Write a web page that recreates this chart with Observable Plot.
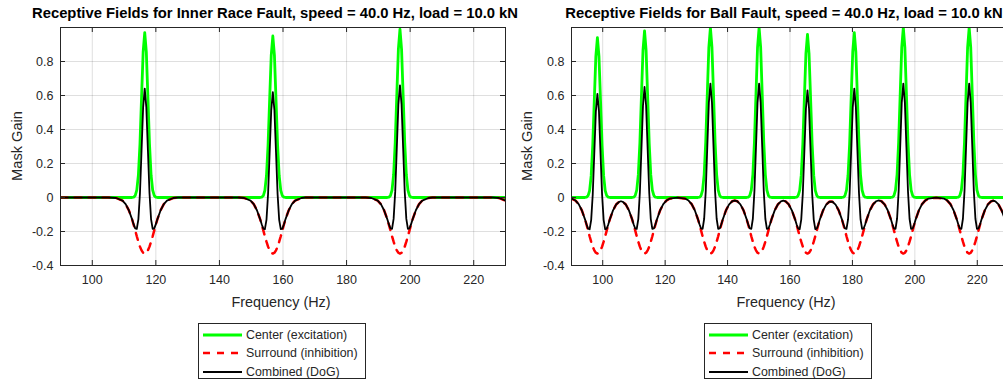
<!DOCTYPE html>
<html><head><meta charset="utf-8">
<script src="https://cdn.jsdelivr.net/npm/d3@7"></script>
<script src="https://cdn.jsdelivr.net/npm/@observablehq/plot@0.6"></script>
<style>
body{margin:0;background:#fff;}
#root{position:relative;width:1003px;height:379px;overflow:hidden;font-family:"Liberation Sans",Arial,Helvetica,sans-serif;color:#262626;background:#fff;}
.panel{position:absolute;top:0;}
.title{position:absolute;top:5px;line-height:16px;font-weight:bold;font-size:14.8px;white-space:nowrap;transform:translateX(-50%);color:#000;}
.xlabel{position:absolute;font-size:14.4px;line-height:16px;white-space:nowrap;transform:translate(-50%,-50%);}
.ylabel{position:absolute;font-size:14.6px;line-height:16px;white-space:nowrap;transform:translate(-50%,-50%) rotate(-90deg);}
.legend{position:absolute;border:1px solid #262626;background:#fff;font-size:12.4px;box-sizing:border-box;}
.legend .row{position:absolute;left:0;height:16px;line-height:16px;white-space:nowrap;}
.legend svg{position:absolute;left:4px;top:0;}
.legend span{position:absolute;left:47px;top:0;}
</style></head><body><div id="root"></div>
<script>
// ---------- axis ticks ----------
const xTicks = [100, 120, 140, 160, 180, 200, 220];
const xTickLabels = ["100", "120", "140", "160", "180", "200", "220"];
const yTicks = [-0.4, -0.2, 0, 0.2, 0.4, 0.6, 0.8];
const yTickLabels = ["-0.4", "-0.2", "0", "0.2", "0.4", "0.6", "0.8"];
const seriesNames = ["Center (excitation)", "Surround (inhibition)", "Combined (DoG)"];
const titles = [
  "Receptive Fields for Inner Race Fault, speed = 40.0 Hz, load = 10.0 kN",
  "Receptive Fields for Ball Fault, speed = 40.0 Hz, load = 10.0 kN"
];

// ---------- left panel (Inner Race Fault) ----------
const leftFreq = [
  90, 100, 105,
  107.5, 109.5, 110.5, 111.5, 112.5, 113, 113.5, 114, 114.5, 115, 115.5, 116, 116.5, 117, 117.5, 118, 118.5, 119, 119.5, 120, 120.5, 121.5, 122.5, 123.5, 125.5,
  127, 137, 146,
  147.8, 149.8, 150.8, 151.8, 152.8, 153.3, 153.8, 154.3, 154.8, 155.3, 155.8, 156.3, 156.8, 157.3, 157.8, 158.3, 158.8, 159.3, 159.8, 160.3, 160.8, 161.8, 162.8, 163.8, 165.8,
  167, 177, 186,
  187.8, 189.8, 190.8, 191.8, 192.8, 193.3, 193.8, 194.3, 194.8, 195.3, 195.8, 196.3, 196.8, 197.3, 197.8, 198.3, 198.8, 199.3, 199.8, 200.3, 200.8, 201.8, 202.8, 203.8, 205.8,
  207, 218, 226, 228, 230
];
const leftCenter = [
  0, 0, 0,
  0, 0, 0, 0, 0, 0.002, 0.011, 0.043, 0.131, 0.315, 0.589, 0.856, 0.970, 0.856, 0.589, 0.315, 0.131, 0.043, 0.011, 0.002, 0, 0, 0, 0, 0,
  0, 0, 0,
  0, 0, 0, 0, 0, 0.002, 0.010, 0.042, 0.128, 0.309, 0.577, 0.838, 0.950, 0.838, 0.577, 0.309, 0.128, 0.042, 0.010, 0.002, 0, 0, 0, 0, 0,
  0, 0, 0,
  0, 0, 0, 0, 0, 0.002, 0.011, 0.044, 0.134, 0.322, 0.601, 0.873, 0.990, 0.873, 0.601, 0.322, 0.134, 0.044, 0.011, 0.002, 0, 0, 0, 0, 0,
  0, 0, 0, 0, 0
];
const leftSurround = [
  0, 0, 0,
  -0.003, -0.018, -0.039, -0.075, -0.127, -0.159, -0.193, -0.228, -0.260, -0.289, -0.311, -0.325, -0.330, -0.325, -0.311, -0.289, -0.260, -0.228, -0.193, -0.159, -0.127, -0.075, -0.039, -0.018, -0.003,
  0, 0, 0,
  -0.003, -0.018, -0.039, -0.075, -0.127, -0.159, -0.193, -0.228, -0.260, -0.289, -0.311, -0.325, -0.330, -0.325, -0.311, -0.289, -0.260, -0.228, -0.193, -0.159, -0.127, -0.075, -0.039, -0.018, -0.003,
  0, 0, 0,
  -0.003, -0.018, -0.039, -0.075, -0.127, -0.159, -0.193, -0.228, -0.260, -0.289, -0.311, -0.325, -0.330, -0.325, -0.311, -0.289, -0.260, -0.228, -0.193, -0.159, -0.127, -0.075, -0.039, -0.018, -0.003,
  0, 0, 0, -0.003, -0.018
];
const leftCombined = [
  0, 0, 0,
  -0.003, -0.018, -0.039, -0.075, -0.127, -0.157, -0.182, -0.185, -0.129, 0.026, 0.278, 0.531, 0.640, 0.531, 0.278, 0.026, -0.129, -0.185, -0.182, -0.157, -0.127, -0.075, -0.039, -0.018, -0.003,
  0, 0, 0,
  -0.003, -0.018, -0.039, -0.075, -0.127, -0.157, -0.183, -0.186, -0.132, 0.020, 0.266, 0.513, 0.620, 0.513, 0.266, 0.020, -0.132, -0.186, -0.183, -0.157, -0.127, -0.075, -0.039, -0.018, -0.003,
  0, 0, 0,
  -0.003, -0.018, -0.039, -0.075, -0.127, -0.157, -0.182, -0.184, -0.126, 0.033, 0.290, 0.548, 0.660, 0.548, 0.290, 0.033, -0.126, -0.184, -0.182, -0.157, -0.127, -0.075, -0.039, -0.018, -0.003,
  0, 0, 0, -0.003, -0.018
];

// ---------- right panel (Ball Fault) ----------
const rightFreq = [
  90, 91.3, 92.3, 93.3,
  94.3, 94.8, 95.3, 95.8, 96.3, 96.8, 97.3, 97.8, 98.3, 98.8, 99.3, 99.8, 100.3, 100.8, 101.3, 101.8, 102.3,
  103.3, 104.3, 105.3, 105.85, 106.4, 107.4, 108.4,
  109.4, 109.9, 110.4, 110.9, 111.4, 111.9, 112.4, 112.9, 113.4, 113.9, 114.4, 114.9, 115.4, 115.9, 116.4, 116.9, 117.4,
  118.4, 119.4, 120.4, 121.4, 123.95, 126.5, 127.5, 128.5, 129.5,
  130.5, 131, 131.5, 132, 132.5, 133, 133.5, 134, 134.5, 135, 135.5, 136, 136.5, 137, 137.5, 138, 138.5,
  139.5, 140.5, 141.5, 142.3, 143.1, 144.1, 145.1,
  146.1, 146.6, 147.1, 147.6, 148.1, 148.6, 149.1, 149.6, 150.1, 150.6, 151.1, 151.6, 152.1, 152.6, 153.1, 153.6, 154.1,
  155.1, 156.1, 157.1, 157.85, 158.6, 159.6, 160.6,
  161.6, 162.1, 162.6, 163.1, 163.6, 164.1, 164.6, 165.1, 165.6, 166.1, 166.6, 167.1, 167.6, 168.1, 168.6, 169.1, 169.6,
  170.6, 171.6, 172.6, 173.1, 173.6, 174.6, 175.6,
  176.6, 177.1, 177.6, 178.1, 178.6, 179.1, 179.6, 180.1, 180.6, 181.1, 181.6, 182.1, 182.6, 183.1, 183.6, 184.1, 184.6,
  185.6, 186.6, 187.6, 188.45, 189.3, 190.3, 191.3,
  192.3, 192.8, 193.3, 193.8, 194.3, 194.8, 195.3, 195.8, 196.3, 196.8, 197.3, 197.8, 198.3, 198.8, 199.3, 199.8, 200.3,
  201.3, 202.3, 203.3, 204.3, 206.85, 209.4, 210.4, 211.4, 212.4,
  213.4, 213.9, 214.4, 214.9, 215.4, 215.9, 216.4, 216.9, 217.4, 217.9, 218.4, 218.9, 219.4, 219.9, 220.4, 220.9, 221.4,
  222.4, 223.4, 224.4, 225.1, 225.8, 226.8, 227.8,
  228.8, 229.3, 229.8, 230.3
];
const rightCenter = [
  0, 0, 0, 0,
  0, 0.002, 0.010, 0.041, 0.127, 0.305, 0.570, 0.830, 0.940, 0.830, 0.570, 0.305, 0.127, 0.041, 0.010, 0.002, 0,
  0, 0, 0, 0, 0, 0, 0,
  0, 0.002, 0.011, 0.043, 0.133, 0.318, 0.594, 0.865, 0.980, 0.865, 0.594, 0.318, 0.133, 0.043, 0.011, 0.002, 0,
  0, 0, 0, 0, 0, 0, 0, 0, 0,
  0, 0.002, 0.011, 0.044, 0.135, 0.325, 0.607, 0.883, 1.000, 0.883, 0.607, 0.325, 0.135, 0.044, 0.011, 0.002, 0,
  0, 0, 0, 0, 0, 0, 0,
  0, 0.002, 0.011, 0.044, 0.135, 0.325, 0.607, 0.883, 1.000, 0.883, 0.607, 0.325, 0.135, 0.044, 0.011, 0.002, 0,
  0, 0, 0, 0, 0, 0, 0,
  0, 0.002, 0.011, 0.042, 0.130, 0.312, 0.582, 0.847, 0.960, 0.847, 0.582, 0.312, 0.130, 0.042, 0.011, 0.002, 0,
  0, 0, 0, 0, 0, 0, 0,
  0, 0.002, 0.011, 0.043, 0.131, 0.315, 0.588, 0.856, 0.970, 0.856, 0.588, 0.315, 0.131, 0.043, 0.011, 0.002, 0,
  0, 0, 0, 0, 0, 0, 0,
  0, 0.002, 0.011, 0.044, 0.135, 0.325, 0.607, 0.883, 1.000, 0.883, 0.607, 0.325, 0.135, 0.044, 0.011, 0.002, 0,
  0, 0, 0, 0, 0, 0, 0, 0, 0,
  0, 0.002, 0.011, 0.044, 0.135, 0.325, 0.607, 0.883, 1.000, 0.883, 0.607, 0.325, 0.135, 0.044, 0.011, 0.002, 0,
  0, 0, 0, 0, 0, 0, 0,
  0, 0.002, 0.011, 0.044
];
const rightSurround = [
  -0.006, -0.018, -0.039, -0.075,
  -0.127, -0.159, -0.193, -0.228, -0.260, -0.289, -0.311, -0.325, -0.330, -0.325, -0.311, -0.289, -0.260, -0.228, -0.193, -0.159, -0.127,
  -0.076, -0.041, -0.025, -0.022, -0.025, -0.041, -0.076,
  -0.127, -0.159, -0.193, -0.228, -0.260, -0.289, -0.311, -0.325, -0.330, -0.325, -0.311, -0.289, -0.260, -0.228, -0.193, -0.159, -0.127,
  -0.075, -0.039, -0.018, -0.007, -0.001, -0.007, -0.018, -0.039, -0.075,
  -0.127, -0.159, -0.193, -0.228, -0.260, -0.289, -0.311, -0.325, -0.330, -0.325, -0.311, -0.289, -0.260, -0.228, -0.193, -0.159, -0.127,
  -0.075, -0.040, -0.022, -0.018, -0.022, -0.040, -0.075,
  -0.127, -0.159, -0.193, -0.228, -0.260, -0.289, -0.311, -0.325, -0.330, -0.325, -0.311, -0.289, -0.260, -0.228, -0.193, -0.159, -0.127,
  -0.076, -0.041, -0.023, -0.019, -0.023, -0.041, -0.076,
  -0.127, -0.159, -0.193, -0.228, -0.260, -0.289, -0.311, -0.325, -0.330, -0.325, -0.311, -0.289, -0.260, -0.228, -0.193, -0.159, -0.127,
  -0.076, -0.042, -0.025, -0.024, -0.025, -0.042, -0.076,
  -0.127, -0.159, -0.193, -0.228, -0.260, -0.289, -0.311, -0.325, -0.330, -0.325, -0.311, -0.289, -0.260, -0.228, -0.193, -0.159, -0.127,
  -0.075, -0.040, -0.022, -0.017, -0.022, -0.040, -0.075,
  -0.127, -0.159, -0.193, -0.228, -0.260, -0.289, -0.311, -0.325, -0.330, -0.325, -0.311, -0.289, -0.260, -0.228, -0.193, -0.159, -0.127,
  -0.075, -0.039, -0.018, -0.007, -0.001, -0.007, -0.018, -0.039, -0.075,
  -0.127, -0.159, -0.193, -0.228, -0.260, -0.289, -0.311, -0.325, -0.330, -0.325, -0.311, -0.289, -0.260, -0.228, -0.193, -0.159, -0.127,
  -0.076, -0.041, -0.023, -0.019, -0.023, -0.041, -0.076,
  -0.127, -0.159, -0.193, -0.228
];
const rightCombined = [
  -0.006, -0.018, -0.039, -0.075,
  -0.127, -0.157, -0.183, -0.187, -0.133, 0.016, 0.259, 0.505, 0.610, 0.505, 0.259, 0.016, -0.133, -0.187, -0.183, -0.157, -0.127,
  -0.076, -0.041, -0.025, -0.022, -0.025, -0.041, -0.076,
  -0.127, -0.157, -0.182, -0.185, -0.127, 0.029, 0.283, 0.540, 0.650, 0.540, 0.283, 0.029, -0.127, -0.185, -0.182, -0.157, -0.127,
  -0.075, -0.039, -0.018, -0.007, -0.001, -0.007, -0.018, -0.039, -0.075,
  -0.127, -0.157, -0.182, -0.184, -0.125, 0.036, 0.296, 0.558, 0.670, 0.558, 0.296, 0.036, -0.125, -0.184, -0.182, -0.157, -0.127,
  -0.075, -0.040, -0.022, -0.018, -0.022, -0.040, -0.075,
  -0.127, -0.157, -0.182, -0.184, -0.125, 0.036, 0.296, 0.558, 0.670, 0.558, 0.296, 0.036, -0.125, -0.184, -0.182, -0.157, -0.127,
  -0.076, -0.041, -0.023, -0.019, -0.023, -0.041, -0.076,
  -0.127, -0.157, -0.182, -0.186, -0.130, 0.023, 0.271, 0.522, 0.630, 0.522, 0.271, 0.023, -0.130, -0.186, -0.182, -0.157, -0.127,
  -0.076, -0.042, -0.025, -0.024, -0.025, -0.042, -0.076,
  -0.127, -0.157, -0.182, -0.185, -0.129, 0.026, 0.277, 0.531, 0.640, 0.531, 0.277, 0.026, -0.129, -0.185, -0.182, -0.157, -0.127,
  -0.075, -0.040, -0.022, -0.017, -0.022, -0.040, -0.075,
  -0.127, -0.157, -0.182, -0.184, -0.125, 0.036, 0.296, 0.558, 0.670, 0.558, 0.296, 0.036, -0.125, -0.184, -0.182, -0.157, -0.127,
  -0.075, -0.039, -0.018, -0.007, -0.001, -0.007, -0.018, -0.039, -0.075,
  -0.127, -0.157, -0.182, -0.184, -0.125, 0.036, 0.296, 0.558, 0.670, 0.558, 0.296, 0.036, -0.125, -0.184, -0.182, -0.157, -0.127,
  -0.076, -0.041, -0.023, -0.019, -0.023, -0.041, -0.076,
  -0.127, -0.157, -0.182, -0.184
];

// ---------- drawing ----------
const AX = "#262626";
const GREEN = "#00ff00", RED = "#ff0000", BLACK = "#000000";
const H = 320, MT = 27, MB = 55;
const root = document.getElementById("root");

function panel(opts) {
  const {freq, center, surround, combined, left, width, ml, mr} = opts;
  const idx = d3.range(freq.length);
  const pw = width - ml - mr, ph = H - MT - MB;
  const svg = Plot.plot({
    width, height: H,
    marginLeft: ml, marginRight: mr, marginTop: MT, marginBottom: MB,
    style: {fontFamily: '"Liberation Sans", Arial, Helvetica, sans-serif', fontSize: "12.5px", color: AX, background: "transparent", overflow: "visible"},
    x: {domain: [90, 230]},
    y: {domain: [-0.4, 1.0]},
    marks: [
      Plot.gridX(xTicks, {stroke: AX, strokeOpacity: 0.15}),
      Plot.gridY(yTicks, {stroke: AX, strokeOpacity: 0.15}),
      Plot.line(idx, {x: i => freq[i], y: i => center[i], stroke: GREEN, strokeWidth: 2.8, clip: true}),
      Plot.line(idx, {x: i => freq[i], y: i => surround[i], stroke: RED, strokeWidth: 2.5, strokeDasharray: "7,7", clip: true}),
      Plot.line(idx, {x: i => freq[i], y: i => combined[i], stroke: BLACK, strokeWidth: 1.8, clip: true}),
      Plot.tickX(xTicks, {x: d => d, insetTop: ph - 5, stroke: AX}),
      Plot.tickX(xTicks, {x: d => d, insetBottom: ph - 5, stroke: AX}),
      Plot.tickY(yTicks, {y: d => d, insetRight: pw - 5, stroke: AX}),
      Plot.tickY(yTicks, {y: d => d, insetLeft: pw - 5, stroke: AX}),
      Plot.frame({stroke: AX}),
      Plot.axisX(xTicks, {tickSize: 0, tickPadding: 10, tickFormat: d => xTickLabels[xTicks.indexOf(d)], label: null}),
      Plot.axisY(yTicks, {tickSize: 0, tickPadding: 7, tickFormat: d => yTickLabels[yTicks.indexOf(d)], label: null})
    ]
  });
  svg.classList.add("panel");
  svg.style.left = left + "px";
  root.appendChild(svg);
}

panel({freq: leftFreq, center: leftCenter, surround: leftSurround, combined: leftCombined, left: 0, width: 510, ml: 60, mr: 5});
panel({freq: rightFreq, center: rightCenter, surround: rightSurround, combined: rightCombined, left: 510, width: 510, ml: 61, mr: 12});

function addText(cls, text, x, y) {
  const d = document.createElement("div");
  d.className = cls; d.textContent = text;
  d.style.left = x + "px";
  if (y !== null) d.style.top = y + "px";
  root.appendChild(d);
}
addText("title", titles[0], 275, null);
addText("title", titles[1], 784, null);
addText("xlabel", "Frequency (Hz)", 281, 302);
addText("xlabel", "Frequency (Hz)", 786, 302);
addText("ylabel", "Mask Gain", 17, 146);
addText("ylabel", "Mask Gain", 527, 146);

function legend(x) {
  const box = document.createElement("div");
  box.className = "legend";
  box.style.left = x + "px"; box.style.top = "323px";
  box.style.width = "168px"; box.style.height = "56px";
  const rowsY = [3, 21, 39.5];
  const styles = [[GREEN, 2.8, null], [RED, 2.5, "7,7"], [BLACK, 1.8, null]];
  seriesNames.forEach((name, i) => {
    const row = document.createElement("div");
    row.className = "row"; row.style.top = rowsY[i] + "px";
    const [c, w, dash] = styles[i];
    row.innerHTML = `<svg width="40" height="16"><line x1="0" x2="39" y1="8" y2="8" stroke="${c}" stroke-width="${w}" ${dash ? `stroke-dasharray="${dash}"` : ""}/></svg><span>${name}</span>`;
    box.appendChild(row);
  });
  root.appendChild(box);
}
legend(198);
legend(704);
</script>
</body></html>
